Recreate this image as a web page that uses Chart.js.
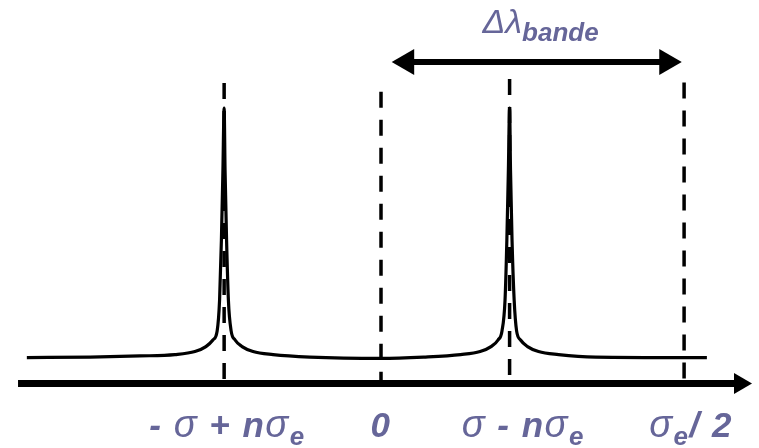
<!DOCTYPE html>
<html><head><meta charset="utf-8">
<script src="https://cdn.jsdelivr.net/npm/chart.js@4.4.0/dist/chart.umd.min.js"></script>
<style>html,body{margin:0;padding:0;background:#fff;}canvas{display:block;}</style>
</head><body>
<canvas id="c" width="759" height="448"></canvas>
<script>
// Spectrum (x in units of sigma_e/2, y = relative intensity, 0 on the axis)
const specX = [-1.165,-0.957,-0.793,-0.678,-0.612,-0.576,-0.553,-0.539,-0.531,-0.525,-0.520,-0.516,-0.513,-0.508,-0.502,-0.493,-0.480,-0.457,-0.421,-0.355,-0.234,0,
  0.140,0.262,0.326,0.362,0.385,0.398,0.408,0.414,0.419,0.423,0.426,0.431,0.438,0.446,0.459,0.482,0.518,0.584,0.706,1.072];
const specY = [0.094,0.096,0.100,0.105,0.116,0.134,0.158,0.191,0.303,0.521,0.775,1.000,0.775,0.521,0.303,0.191,0.158,0.134,0.116,0.105,0.096,0.091,
  0.096,0.105,0.116,0.134,0.158,0.191,0.303,0.521,0.775,1.000,0.775,0.521,0.303,0.191,0.158,0.134,0.116,0.105,0.096,0.094];

// Dashed marker lines
const markerX = [-0.516, 0, 0.423, 0.997];
const markerTop = [1.091, 1.059, 1.105, 1.093];
const markerBottom = [0, 0, 0, 0];

// Axis arrow and band arrow
const axisX = [-1.194, 1.181];
const axisY = [0, 0];
const bandX = [0.0845, 0.940];
const bandY = [1.167, 1.167];

// Labels (underscore = subscript)
const tickLabels = ['- σ + nσ_e', '0', 'σ - nσ_e', 'σ_e/ 2'];
const tickLabelX = [-0.505, 0, 0.468, 1.02];
const tickLabelY = -0.194;
const bandLabel = 'Δλ_{bande}';
const bandLabelX = 0.525;
const bandLabelY = 1.272;

const LABEL_COLOR = '#666699';
const FONT = '"Liberation Sans", Arial, sans-serif';

function parseRich(s) {
  const segs = [];
  for (let i = 0; i < s.length; i++) {
    let ch = s[i];
    if (ch === '_') {
      let txt;
      if (s[i + 1] === '{') { const j = s.indexOf('}', i); txt = s.slice(i + 2, j); i = j; }
      else { txt = s[i + 1]; i++; }
      segs.push({ t: txt, sub: true, greek: false });
    } else {
      const greek = /[\u0370-\u03FF]/.test(ch);
      const last = segs[segs.length - 1];
      if (last && !last.sub && last.greek === greek) last.t += ch;
      else segs.push({ t: ch, sub: false, greek });
    }
  }
  return segs;
}

function drawRich(ctx, s, cx, by, size, greekSize, subSize, subDrop, spacing) {
  const segs = parseRich(s);
  const fontOf = (g) => g.sub ? `italic bold ${subSize}px ${FONT}` : (g.greek ? `italic ${greekSize}px ${FONT}` : `italic bold ${size}px ${FONT}`);
  let total = 0;
  segs.forEach(g => { ctx.font = fontOf(g); g.w = ctx.measureText(g.t).width + spacing * g.t.length; total += g.w; });
  let x = cx - total / 2;
  ctx.fillStyle = LABEL_COLOR;
  ctx.textBaseline = 'alphabetic';
  ctx.textAlign = 'left';
  segs.forEach(g => {
    ctx.font = fontOf(g);
    let xx = x;
    for (const ch of g.t) { ctx.fillText(ch, xx, by + (g.sub ? subDrop : 0)); xx += ctx.measureText(ch).width + spacing; }
    x += g.w;
  });
}

const labelPlugin = {
  id: 'labels',
  afterDraw(chart) {
    const ctx = chart.ctx, xs = chart.scales.x, ys = chart.scales.y;
    ctx.save();
    tickLabels.forEach((t, i) => drawRich(ctx, t, xs.getPixelForValue(tickLabelX[i]), ys.getPixelForValue(tickLabelY), 35, 38, 26, 8, 1.5));
    drawRich(ctx, bandLabel, xs.getPixelForValue(bandLabelX), ys.getPixelForValue(bandLabelY), 30, 34, 26, 8, 0);
    ctx.restore();
  }
};

const datasets = [];
datasets.push({ data: axisX.map((x, i) => ({ x, y: axisY[i] })), borderColor: '#000', borderWidth: 7,
  pointRadius: [0, 12], pointStyle: 'triangle', rotation: [0, 90], pointBackgroundColor: '#000', pointBorderWidth: 0, borderCapStyle: 'butt' });
datasets.push({ data: bandX.map((x, i) => ({ x, y: bandY[i] })), borderColor: '#000', borderWidth: 6,
  pointRadius: [15, 15], pointStyle: 'triangle', rotation: [-90, 90], pointBackgroundColor: '#000', pointBorderWidth: 0 });
markerX.forEach((x, i) => datasets.push({ data: [{ x, y: markerTop[i] }, { x, y: markerBottom[i] }], borderColor: '#000', borderWidth: 3.5,
  borderDash: [16, 12], pointRadius: 0, borderCapStyle: 'butt' }));
datasets.push({ data: specX.map((x, i) => ({ x, y: specY[i] })), borderColor: '#000', borderWidth: 3.2,
  pointRadius: 0, cubicInterpolationMode: 'monotone' });

new Chart(document.getElementById('c'), {
  type: 'scatter',
  data: { datasets: datasets.map(d => Object.assign({ showLine: true, clip: false, fill: false }, d)) },
  options: {
    responsive: false, animation: false, devicePixelRatio: 1,
    layout: { padding: 0, autoPadding: false },
    plugins: { legend: { display: false }, tooltip: { enabled: false } },
    scales: {
      x: { type: 'linear', display: false, min: -1.2533, max: 1.2434 },
      y: { type: 'linear', display: false, min: -0.2341, max: 1.392 }
    }
  },
  plugins: [labelPlugin]
});
</script>
</body></html>
